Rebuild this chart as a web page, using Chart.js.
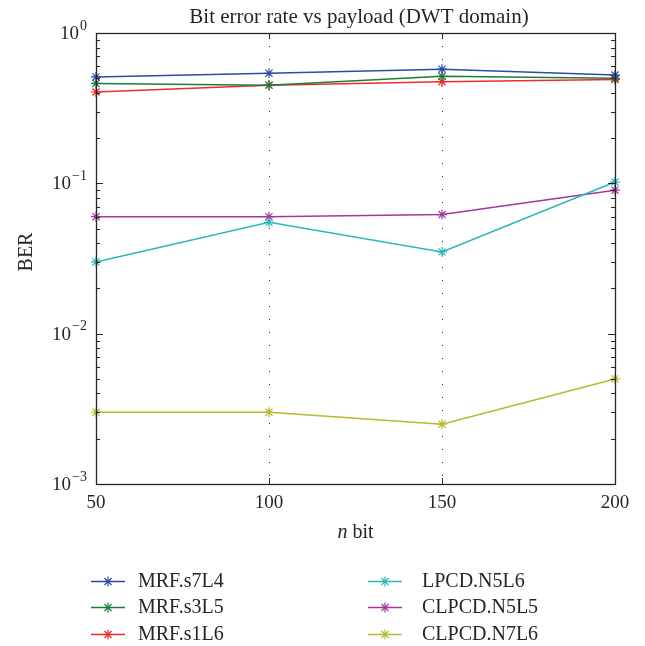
<!DOCTYPE html>
<html><head><meta charset="utf-8">
<script src="https://cdn.jsdelivr.net/npm/chart.js@4/dist/chart.umd.min.js"></script>
<style>html,body{margin:0;padding:0;background:#fff;} canvas{display:block;}</style>
</head><body>
<canvas id="c" width="645" height="646"></canvas>
<script>
// ---- data ----
const payloadBits = [50, 100, 150, 200];
const mrfS7L4   = [0.51, 0.54, 0.575, 0.525];
const mrfS3L5   = [0.462, 0.45, 0.515, 0.50];
const mrfS1L6   = [0.405, 0.45, 0.474, 0.49];
const lpcdN5L6  = [0.030, 0.055, 0.035, 0.102];
const clpcdN5L5 = [0.060, 0.060, 0.062, 0.090];
const clpcdN7L6 = [0.0030, 0.0030, 0.0025, 0.0050];
const seriesLabels = ['MRF.s7L4', 'MRF.s3L5', 'MRF.s1L6', 'LPCD.N5L6', 'CLPCD.N5L5', 'CLPCD.N7L6'];
const seriesValues = [mrfS7L4, mrfS3L5, mrfS1L6, lpcdN5L6, clpcdN5L5, clpcdN7L6];
const seriesColors = ['#2d4ba6', '#1b7d3c', '#ee2b2b', '#2bb7b9', '#a3379c', '#b9b92f'];
const xTickValues = [50, 100, 150, 200];
const yTickValues = [1, 0.1, 0.01, 0.001];
const yTickExponents = ['0', '\u22121', '\u22122', '\u22123'];
const titleText = 'Bit error rate vs payload (DWT domain)';
const yTitle = 'BER';

const FONT = '"Liberation Serif", "Times New Roman", serif';
const INK = '#262626';

function drawStar(ctx, cx, cy, r) {
  for (let a = 0; a < 4; a++) {
    const ang = a * Math.PI / 4;
    const dx = Math.cos(ang) * r, dy = Math.sin(ang) * r;
    ctx.beginPath(); ctx.moveTo(cx - dx, cy - dy); ctx.lineTo(cx + dx, cy + dy); ctx.stroke();
  }
}

const framePlugin = {
  id: 'frame',
  beforeDatasetsDraw(chart) {
    const {ctx, chartArea: {top, bottom}, scales: {x}} = chart;
    ctx.save();
    ctx.strokeStyle = INK; ctx.lineWidth = 1; ctx.setLineDash([1, 12]);
    for (const v of xTickValues) {
      if (v === x.min || v === x.max) continue;
      const px = Math.round(x.getPixelForValue(v)) + 0.5;
      ctx.beginPath(); ctx.moveTo(px, top); ctx.lineTo(px, bottom); ctx.stroke();
    }
    ctx.restore();
  },
  afterDatasetsDraw(chart) {
    const {ctx, chartArea: {left, right, top, bottom}, scales: {x, y}} = chart;
    ctx.save();
    ctx.strokeStyle = INK; ctx.lineWidth = 1.3; ctx.setLineDash([]);
    ctx.strokeRect(left + 0.5, top + 0.5, right - left, bottom - top);
    ctx.lineWidth = 1;
    // y ticks (major + minor), inside, both sides
    for (let k = -3; k <= 0; k++) {
      for (let m = 1; m <= 9; m++) {
        const v = m * Math.pow(10, k);
        if (v > 1.0001) break;
        const py = Math.round(y.getPixelForValue(v)) + 0.5;
        const len = m === 1 ? 7 : 4;
        ctx.beginPath(); ctx.moveTo(left, py); ctx.lineTo(left + len, py); ctx.stroke();
        ctx.beginPath(); ctx.moveTo(right, py); ctx.lineTo(right - len, py); ctx.stroke();
      }
    }
    // x ticks inside top & bottom
    for (const v of xTickValues) {
      const px = Math.round(x.getPixelForValue(v)) + 0.5;
      ctx.beginPath(); ctx.moveTo(px, bottom); ctx.lineTo(px, bottom - 6); ctx.stroke();
      ctx.beginPath(); ctx.moveTo(px, top); ctx.lineTo(px, top + 6); ctx.stroke();
    }
    ctx.restore();
  },
  afterDraw(chart) {
    const {ctx, chartArea: {left, right, top, bottom}, scales: {x, y}} = chart;
    ctx.save();
    ctx.fillStyle = INK;
    // title
    ctx.font = '21px ' + FONT;
    ctx.textAlign = 'center'; ctx.textBaseline = 'alphabetic';
    ctx.fillText(titleText, 359, 23);
    // y tick labels with superscripts
    yTickValues.forEach((v, i) => {
      const py = y.getPixelForValue(v);
      ctx.font = '14px ' + FONT;
      const sw = ctx.measureText(yTickExponents[i]).width;
      ctx.font = '19px ' + FONT;
      const bw = ctx.measureText('10').width;
      const xr = left - 10;
      ctx.textAlign = 'left'; ctx.textBaseline = 'middle';
      ctx.fillText('10', xr - sw - bw, py + 1);
      ctx.font = '14px ' + FONT;
      ctx.fillText(yTickExponents[i], xr - sw + 1, py - 7);
    });
    // x tick labels
    ctx.font = '19px ' + FONT; ctx.textAlign = 'center'; ctx.textBaseline = 'middle';
    xTickValues.forEach(v => ctx.fillText(String(v), x.getPixelForValue(v), 503));
    // x axis title: italic n + " bit"
    ctx.font = 'italic 20px ' + FONT;
    const nw = ctx.measureText('n').width;
    ctx.font = '20px ' + FONT;
    const bw2 = ctx.measureText(' bit').width;
    const cx = (left + right) / 2;
    let sx = cx - (nw + bw2) / 2;
    ctx.textAlign = 'left'; ctx.textBaseline = 'middle';
    ctx.font = 'italic 20px ' + FONT; ctx.fillText('n', sx, 533);
    ctx.font = '20px ' + FONT; ctx.fillText(' bit', sx + nw, 533);
    // y axis title
    ctx.save();
    ctx.translate(27, 252); ctx.rotate(-Math.PI / 2);
    ctx.font = '20px ' + FONT;
    ctx.textAlign = 'center'; ctx.textBaseline = 'middle';
    ctx.fillText(yTitle, 0, 0);
    ctx.restore();
    // legend (two columns x three rows)
    const colX = [91, 368], textX = [138, 422], rowY = [581, 607, 634];
    chart.data.datasets.forEach((ds, i) => {
      const col = Math.floor(i / 3), row = i % 3;
      const x0 = colX[col], yy = rowY[row];
      ctx.strokeStyle = ds.borderColor; ctx.lineWidth = 1.5;
      ctx.beginPath(); ctx.moveTo(x0, yy + 0.5); ctx.lineTo(x0 + 34, yy + 0.5); ctx.stroke();
      ctx.lineWidth = 1.2;
      drawStar(ctx, x0 + 17, yy + 0.5, 5);
      ctx.fillStyle = INK; ctx.font = '20px ' + FONT;
      ctx.textAlign = 'left'; ctx.textBaseline = 'middle';
      ctx.fillText(ds.label, textX[col], yy + 1);
    });
    ctx.restore();
  }
};

const datasets = seriesLabels.map((lab, i) => ({
  label: lab,
  data: payloadBits.map((b, j) => ({x: b, y: seriesValues[i][j]})),
  borderColor: seriesColors[i],
  backgroundColor: seriesColors[i],
  borderWidth: 1.5,
  pointStyle: 'star',
  pointRadius: 5,
  pointBorderWidth: 1.2,
  pointBorderColor: seriesColors[i],
  tension: 0,
  clip: false
}));

new Chart(document.getElementById('c'), {
  type: 'line',
  data: {datasets},
  options: {
    responsive: false,
    devicePixelRatio: 1,
    animation: false,
    layout: {padding: {left: 0, right: 30, top: 33, bottom: 102}},
    plugins: {legend: {display: false}, title: {display: false}, tooltip: {enabled: false}},
    scales: {
      x: {
        type: 'linear', min: 50, max: 200,
        ticks: {display: false, stepSize: 50},
        grid: {display: false}, border: {display: false},
        afterFit: s => { s.height = 60; }
      },
      y: {
        type: 'logarithmic', min: 0.001, max: 1,
        ticks: {display: false},
        grid: {display: false}, border: {display: false},
        afterFit: s => { s.width = 96; }
      }
    }
  },
  plugins: [framePlugin]
});
</script>
</body></html>
